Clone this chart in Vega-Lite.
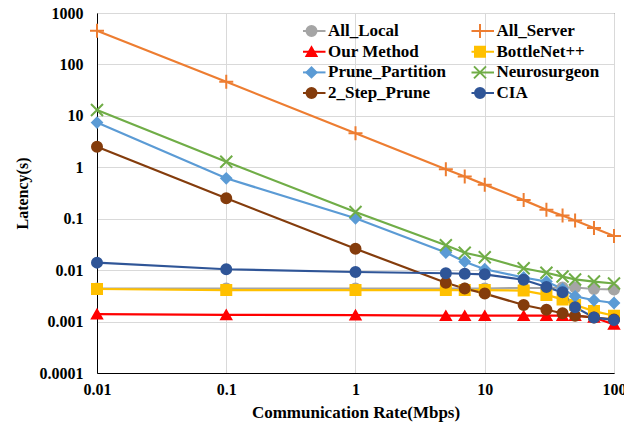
{
  "$schema": "https://vega.github.io/schema/vega-lite/v6.json",
  "width": 517,
  "height": 360,
  "autosize": {"type": "none"},
  "padding": {"left": 97, "top": 13, "right": 10, "bottom": 54},
  "background": "white",
  "config": {
    "font": "Liberation Serif",
    "view": {"stroke": "#404040", "strokeWidth": 1},
    "axis": {
      "labelFont": "Liberation Serif", "labelFontSize": 16, "labelFontWeight": "bold", "labelColor": "black",
      "titleFont": "Liberation Serif", "titleFontSize": 16, "titleFontWeight": "bold", "titleColor": "black",
      "ticks": false, "domainColor": "black", "gridColor": "#D9D9D9", "gridWidth": 1, "grid": true, "labelFlush": false
    }
  },
  "data": {"values": [
    {"series": "All_Local", "rate": 0.01, "latency": 0.0044},
    {"series": "All_Local", "rate": 0.1, "latency": 0.0044},
    {"series": "All_Local", "rate": 1, "latency": 0.0044},
    {"series": "All_Local", "rate": 5, "latency": 0.0044},
    {"series": "All_Local", "rate": 7, "latency": 0.0044},
    {"series": "All_Local", "rate": 10, "latency": 0.0044},
    {"series": "All_Local", "rate": 20, "latency": 0.0045},
    {"series": "All_Local", "rate": 30, "latency": 0.0045},
    {"series": "All_Local", "rate": 40, "latency": 0.0046},
    {"series": "All_Local", "rate": 50, "latency": 0.0046},
    {"series": "All_Local", "rate": 70, "latency": 0.0043},
    {"series": "All_Local", "rate": 100, "latency": 0.0042},
    {"series": "All_Server", "rate": 0.01, "latency": 450},
    {"series": "All_Server", "rate": 0.1, "latency": 46},
    {"series": "All_Server", "rate": 1, "latency": 4.6},
    {"series": "All_Server", "rate": 5, "latency": 0.92},
    {"series": "All_Server", "rate": 7, "latency": 0.66},
    {"series": "All_Server", "rate": 10, "latency": 0.46},
    {"series": "All_Server", "rate": 20, "latency": 0.23},
    {"series": "All_Server", "rate": 30, "latency": 0.15},
    {"series": "All_Server", "rate": 40, "latency": 0.115},
    {"series": "All_Server", "rate": 50, "latency": 0.092},
    {"series": "All_Server", "rate": 70, "latency": 0.066},
    {"series": "All_Server", "rate": 100, "latency": 0.046},
    {"series": "Our Method", "rate": 0.01, "latency": 0.0014},
    {"series": "Our Method", "rate": 0.1, "latency": 0.00135},
    {"series": "Our Method", "rate": 1, "latency": 0.00133},
    {"series": "Our Method", "rate": 5, "latency": 0.0013},
    {"series": "Our Method", "rate": 7, "latency": 0.0013},
    {"series": "Our Method", "rate": 10, "latency": 0.0013},
    {"series": "Our Method", "rate": 20, "latency": 0.0013},
    {"series": "Our Method", "rate": 30, "latency": 0.0013},
    {"series": "Our Method", "rate": 40, "latency": 0.0013},
    {"series": "Our Method", "rate": 50, "latency": 0.0013},
    {"series": "Our Method", "rate": 70, "latency": 0.0012},
    {"series": "Our Method", "rate": 100, "latency": 0.00088},
    {"series": "BottleNet++", "rate": 0.01, "latency": 0.0043},
    {"series": "BottleNet++", "rate": 0.1, "latency": 0.0041},
    {"series": "BottleNet++", "rate": 1, "latency": 0.0041},
    {"series": "BottleNet++", "rate": 5, "latency": 0.0041},
    {"series": "BottleNet++", "rate": 7, "latency": 0.0041},
    {"series": "BottleNet++", "rate": 10, "latency": 0.0041},
    {"series": "BottleNet++", "rate": 20, "latency": 0.004},
    {"series": "BottleNet++", "rate": 30, "latency": 0.0033},
    {"series": "BottleNet++", "rate": 40, "latency": 0.0027},
    {"series": "BottleNet++", "rate": 50, "latency": 0.0021},
    {"series": "BottleNet++", "rate": 70, "latency": 0.0016},
    {"series": "BottleNet++", "rate": 100, "latency": 0.0013},
    {"series": "Prune_Partition", "rate": 0.01, "latency": 7.4},
    {"series": "Prune_Partition", "rate": 0.1, "latency": 0.61},
    {"series": "Prune_Partition", "rate": 1, "latency": 0.102},
    {"series": "Prune_Partition", "rate": 5, "latency": 0.022},
    {"series": "Prune_Partition", "rate": 7, "latency": 0.0146},
    {"series": "Prune_Partition", "rate": 10, "latency": 0.0104},
    {"series": "Prune_Partition", "rate": 20, "latency": 0.0072},
    {"series": "Prune_Partition", "rate": 30, "latency": 0.006},
    {"series": "Prune_Partition", "rate": 40, "latency": 0.0043},
    {"series": "Prune_Partition", "rate": 50, "latency": 0.0031},
    {"series": "Prune_Partition", "rate": 70, "latency": 0.0026},
    {"series": "Prune_Partition", "rate": 100, "latency": 0.0023},
    {"series": "Neurosurgeon", "rate": 0.01, "latency": 13},
    {"series": "Neurosurgeon", "rate": 0.1, "latency": 1.28},
    {"series": "Neurosurgeon", "rate": 1, "latency": 0.135},
    {"series": "Neurosurgeon", "rate": 5, "latency": 0.0305},
    {"series": "Neurosurgeon", "rate": 7, "latency": 0.0218},
    {"series": "Neurosurgeon", "rate": 10, "latency": 0.0178},
    {"series": "Neurosurgeon", "rate": 20, "latency": 0.0109},
    {"series": "Neurosurgeon", "rate": 30, "latency": 0.0089},
    {"series": "Neurosurgeon", "rate": 40, "latency": 0.0075},
    {"series": "Neurosurgeon", "rate": 50, "latency": 0.0066},
    {"series": "Neurosurgeon", "rate": 70, "latency": 0.006},
    {"series": "Neurosurgeon", "rate": 100, "latency": 0.0055},
    {"series": "2_Step_Prune", "rate": 0.01, "latency": 2.5},
    {"series": "2_Step_Prune", "rate": 0.1, "latency": 0.25},
    {"series": "2_Step_Prune", "rate": 1, "latency": 0.026},
    {"series": "2_Step_Prune", "rate": 5, "latency": 0.0057},
    {"series": "2_Step_Prune", "rate": 7, "latency": 0.0044},
    {"series": "2_Step_Prune", "rate": 10, "latency": 0.0035},
    {"series": "2_Step_Prune", "rate": 20, "latency": 0.0021},
    {"series": "2_Step_Prune", "rate": 30, "latency": 0.0017},
    {"series": "2_Step_Prune", "rate": 40, "latency": 0.00145},
    {"series": "2_Step_Prune", "rate": 50, "latency": 0.0013},
    {"series": "2_Step_Prune", "rate": 70, "latency": 0.0012},
    {"series": "2_Step_Prune", "rate": 100, "latency": 0.0011},
    {"series": "CIA", "rate": 0.01, "latency": 0.014},
    {"series": "CIA", "rate": 0.1, "latency": 0.0104},
    {"series": "CIA", "rate": 1, "latency": 0.0092},
    {"series": "CIA", "rate": 5, "latency": 0.0087},
    {"series": "CIA", "rate": 7, "latency": 0.0085},
    {"series": "CIA", "rate": 10, "latency": 0.0083},
    {"series": "CIA", "rate": 20, "latency": 0.0065},
    {"series": "CIA", "rate": 30, "latency": 0.0047},
    {"series": "CIA", "rate": 40, "latency": 0.0037},
    {"series": "CIA", "rate": 50, "latency": 0.0019},
    {"series": "CIA", "rate": 70, "latency": 0.0012},
    {"series": "CIA", "rate": 100, "latency": 0.00107}
  ]},
  "layer": [
    {
      "mark": {"type": "line", "strokeWidth": 2.2},
      "encoding": {
        "x": {"field": "rate", "type": "quantitative",
          "scale": {"type": "log", "domain": [0.01, 100], "nice": false},
          "axis": {"values": [0.01, 0.1, 1, 10, 100], "format": "~g", "title": "Communication Rate(Mbps)", "titleFontSize": 17, "labelPadding": 8, "titlePadding": 7}},
        "y": {"field": "latency", "type": "quantitative",
          "scale": {"type": "log", "domain": [0.0001, 1000], "nice": false},
          "axis": {"values": [0.0001, 0.001, 0.01, 0.1, 1, 10, 100, 1000], "format": "~g", "title": "Latency(s)", "labelPadding": 14, "titlePadding": 9}},
        "color": {"field": "series", "type": "nominal",
          "sort": ["All_Local", "All_Server", "Our Method", "BottleNet++", "Prune_Partition", "Neurosurgeon", "2_Step_Prune", "CIA"],
          "scale": {"range": ["#A5A5A5", "#ED7D31", "#FF0000", "#FFC000", "#5B9BD5", "#70AD47", "#843C0C", "#2F5597"]},
          "legend": {"orient": "none", "direction": "horizontal", "legendX": 206, "legendY": 9.5, "columns": 2, "symbolType": "M-2.8,0H2.8", "symbolSize": 100, "symbolStrokeWidth": 2, "labelOffset": 8, "columnPadding": 24.5, "rowPadding": 2.7, "clipHeight": 17, "title": null, "padding": 0, "labelFont": "Liberation Serif", "labelFontSize": 17, "labelFontWeight": "bold", "labelColor": "black", "labelLimit": 300}}
      }
    },
    {
      "mark": {"type": "point", "filled": true, "size": 100, "strokeWidth": 2, "opacity": 1},
      "encoding": {
        "x": {"field": "rate", "type": "quantitative"},
        "y": {"field": "latency", "type": "quantitative"},
        "fill": {"field": "series", "type": "nominal",
          "scale": {"domain": ["All_Local", "All_Server", "Our Method", "BottleNet++", "Prune_Partition", "Neurosurgeon", "2_Step_Prune", "CIA"], "range": ["#A5A5A5", "#ED7D31", "#FF0000", "#FFC000", "#5B9BD5", "#70AD47", "#843C0C", "#2F5597"]},
          "legend": {"orient": "none", "direction": "horizontal", "legendX": 206, "legendY": 9.5, "columns": 2, "symbolSize": 100, "symbolStrokeWidth": 2, "labelOffset": 8, "columnPadding": 24.5, "rowPadding": 2.7, "clipHeight": 17, "title": null, "padding": 0, "labelFont": "Liberation Serif", "labelFontSize": 17, "labelFontWeight": "bold", "labelOpacity": 0, "labelLimit": 300}},
        "stroke": {"field": "series", "type": "nominal",
          "scale": {"domain": ["All_Local", "All_Server", "Our Method", "BottleNet++", "Prune_Partition", "Neurosurgeon", "2_Step_Prune", "CIA"], "range": ["#A5A5A5", "#ED7D31", "#FF0000", "#FFC000", "#5B9BD5", "#70AD47", "#843C0C", "#2F5597"]},
          "legend": {"orient": "none", "direction": "horizontal", "legendX": 206, "legendY": 9.5, "columns": 2, "symbolSize": 100, "symbolStrokeWidth": 2, "labelOffset": 8, "columnPadding": 24.5, "rowPadding": 2.7, "clipHeight": 17, "title": null, "padding": 0, "labelFont": "Liberation Serif", "labelFontSize": 17, "labelFontWeight": "bold", "labelOpacity": 0, "labelLimit": 300}},
        "shape": {"field": "series", "type": "nominal",
          "scale": {"domain": ["All_Local", "All_Server", "Our Method", "BottleNet++", "Prune_Partition", "Neurosurgeon", "2_Step_Prune", "CIA"], "range": ["circle", "M-1.4,0H1.4M0,-1.4V1.4", "triangle-up", "square", "diamond", "M-1.2,-1.2L1.2,1.2M-1.2,1.2L1.2,-1.2", "circle", "circle"]},
          "legend": {"orient": "none", "direction": "horizontal", "legendX": 206, "legendY": 9.5, "columns": 2, "symbolSize": 100, "symbolStrokeWidth": 2, "labelOffset": 8, "columnPadding": 24.5, "rowPadding": 2.7, "clipHeight": 17, "title": null, "padding": 0, "labelFont": "Liberation Serif", "labelFontSize": 17, "labelFontWeight": "bold", "labelOpacity": 0, "labelLimit": 300}}
      }
    }
  ]
}
